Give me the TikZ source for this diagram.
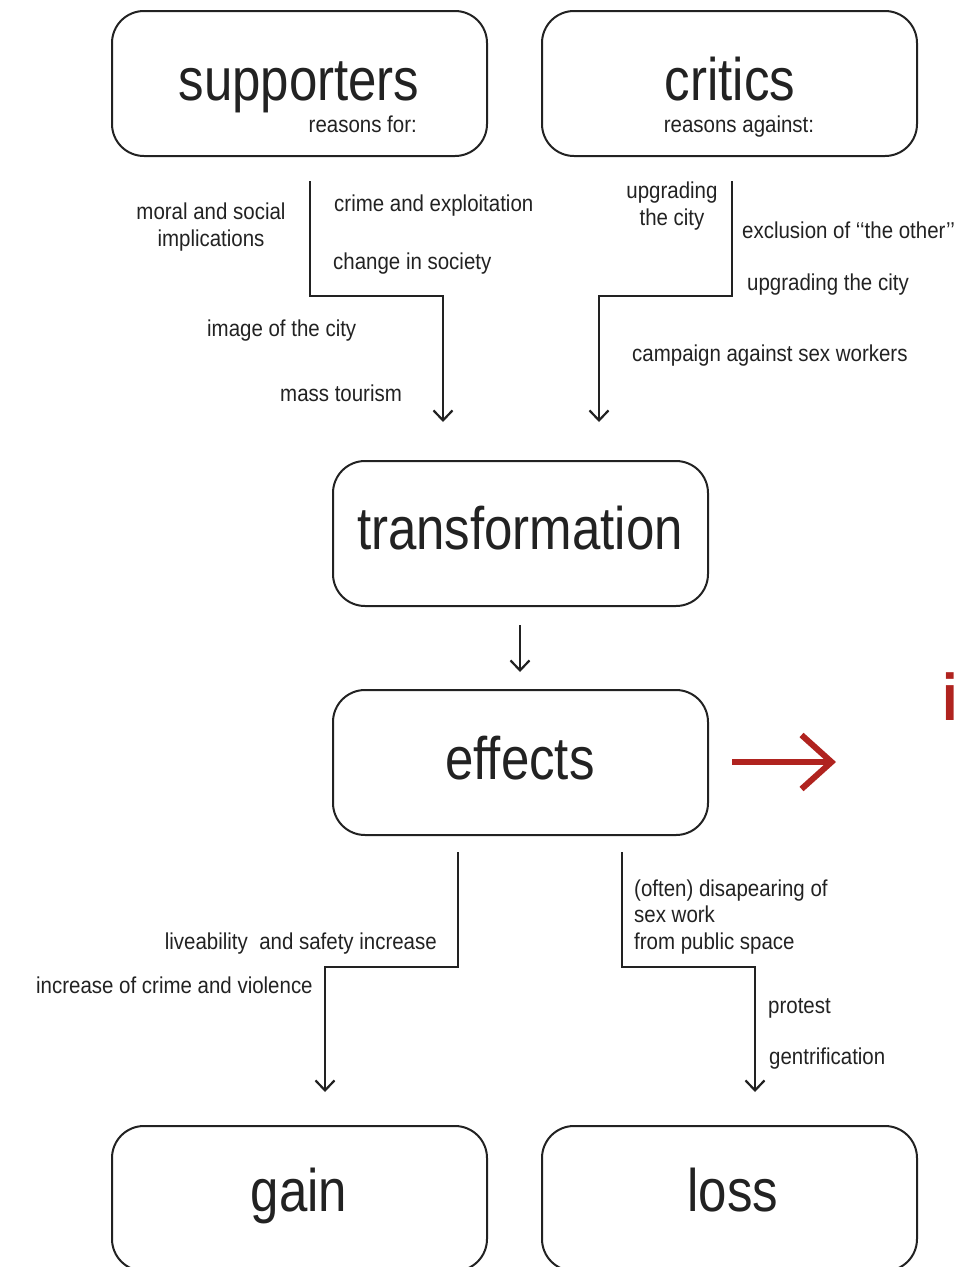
\documentclass[tikz,border=0pt]{standalone}
\usepackage{fontspec}
\setmainfont{Liberation Sans}[FakeStretch=0.85]
\newfontfamily\labelfont{Liberation Sans}[FakeStretch=0.89]
\usetikzlibrary{arrows.meta}
\definecolor{ink}{HTML}{222222}
\definecolor{accent}{HTML}{B0231F}
\begin{document}
\begin{tikzpicture}[x=1pt,y=-1pt,
  box/.style={draw=ink, line width=2pt, rounded corners=32pt,
    minimum width=375pt, minimum height=145pt, inner sep=0pt},
  flow/.style={draw=ink, line width=2.2pt,
    -{Straight Barb[length=10pt,width=19pt,line width=2.2pt]}},
  lbl/.style={text=ink, font=\labelfont\fontsize{23}{26.5}\selectfont, inner sep=0pt},
  big/.style={text=ink, font=\fontsize{60}{62}\selectfont, inner sep=0pt}]
\useasboundingbox (0,0) rectangle (957,1267);
\clip (0,0) rectangle (957,1267);

% boxes
\node[box] (supp) at (299.5,83.5) {};
\node[box] (crit) at (729.5,83.5) {};
\node[box] (trans) at (520.5,533.5) {};
\node[box] (eff) at (520.5,762.5) {};
\node[box] (gain) at (299.5,1198.5) {};
\node[box] (loss) at (729.5,1198.5) {};

% box titles
\node[big, anchor=base] (tSupp) at (299,100) {supporters};
\node[lbl, anchor=base east] (tFor) at (417,132) {reasons for:};
\node[big, anchor=base] (tCrit) at (730,100) {critics};
\node[lbl, anchor=base] (tAgainst) at (739,132) {reasons against:};
\node[big, anchor=base] (tTrans) at (520,549) {transformation};
\node[big, anchor=base] (tEff) at (520,779) {effects};
\node[big, anchor=base] (tGain) at (299,1211) {gain};
\node[big, anchor=base] (tLoss) at (733,1211) {loss};

% connector ends
\coordinate (s0) at (310,181);
\coordinate (s1) at (443,422);
\coordinate (c0) at (732,181);
\coordinate (c1) at (599,422);
\coordinate (t0) at (520,625);
\coordinate (t1) at (520,672);
\coordinate (g0) at (458,852);
\coordinate (g1) at (325,1092);
\coordinate (l0) at (622,852);
\coordinate (l1) at (755,1092);
\coordinate (r0) at (732,762);
\coordinate (r1) at (836,762);

\draw[flow] (s0) -- (s0 |- 0,296) -- (s1 |- 0,296) -- (s1);
\draw[flow] (c0) -- (c0 |- 0,296) -- (c1 |- 0,296) -- (c1);
\draw[flow] (t0) -- (t1);
\draw[flow] (g0) -- (g0 |- 0,967) -- (g1 |- 0,967) -- (g1);
\draw[flow] (l0) -- (l0 |- 0,967) -- (l1 |- 0,967) -- (l1);
\draw[draw=accent, line width=6pt,
  -{Straight Barb[length=30pt,width=54pt,line width=6pt]}] (r0) -- (r1);

% red letter at the right edge
\node[text=accent, font=\fontsize{66}{66}\selectfont\bfseries,
  inner sep=0pt, anchor=base west] (iMark) at (942,720) {i};

% reasons for
\node[lbl, align=center, anchor=base] (lMoral) at (211,246)
  {moral and social\\implications};
\node[lbl, anchor=base west] (lCrime) at (334,211) {crime and exploitation};
\node[lbl, anchor=base west] (lChange) at (333,269) {change in society};
\node[lbl, anchor=base west] (lImage) at (207,336) {image of the city};
\node[lbl, anchor=base west] (lMass) at (280,401) {mass tourism};

% reasons against
\node[lbl, align=center, anchor=base] (lUp1) at (672,225) {upgrading\\the city};
\node[lbl, anchor=base west] (lExcl) at (742,238) {exclusion of ‘‘the other’’};
\node[lbl, anchor=base west] (lUp2) at (747,290) {upgrading the city};
\node[lbl, anchor=base west] (lCamp) at (632,361) {campaign against sex workers};

% effects
\node[lbl, align=left, anchor=base west] (lOften) at (634,949)
  {(often) disapearing of\\sex work\\from public space};
\node[lbl, anchor=base east] (lLive) at (437,949) {liveability\ \ and safety increase};
\node[lbl, anchor=base west] (lIncr) at (36,993) {increase of crime and violence};
\node[lbl, anchor=base west] (lProt) at (768,1013) {protest};
\node[lbl, anchor=base west] (lGent) at (769,1064) {gentrification};
\end{tikzpicture}
\end{document}
